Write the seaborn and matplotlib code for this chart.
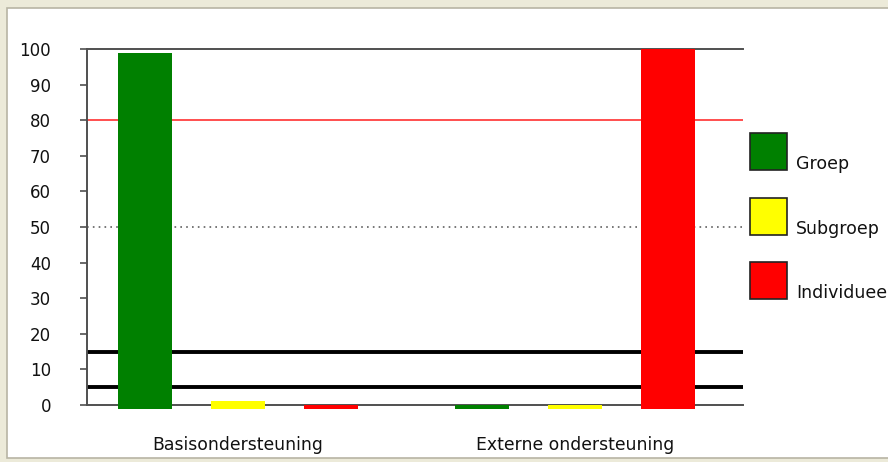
import numpy as np
import pandas as pd
import seaborn as sns
import matplotlib.pyplot as plt
from matplotlib.patches import Rectangle

# data
categories = ["Basisondersteuning", "Externe ondersteuning"]
series = ["Groep", "Subgroep", "Individueel"]
groep = [99, 0]
subgroep = [1, 0]
individueel = [0, 100]
colors = ["#008000", "#ffff00", "#ff0000"]

rows = []
for s, vals in zip(series, [groep, subgroep, individueel]):
    for c, v in zip(categories, vals):
        rows.append({"categorie": c, "niveau": s, "waarde": v})
df = pd.DataFrame(rows)

sns.set_style("white")
plt.rcParams['font.family'] = ['DejaVu Sans']

W, H = 888, 462
fig = plt.figure(figsize=(W / 100, H / 100), dpi=100, facecolor="#ecead9")

def px(x, y):
    return x / W, 1 - y / H

# white panel with thin frame, behind everything (open on the right like the original)
fig.patches.append(Rectangle(px(7, 458), (W + 20) / W, 450 / H, transform=fig.transFigure,
                             facecolor="white", edgecolor="#b8b4a4", linewidth=1.2, zorder=-10))

ax = fig.add_axes([87 / W, 1 - 405 / H, (743 - 87) / W, (405 - 49) / H])
ax.set_facecolor("none")

sns.barplot(data=df, x="categorie", y="waarde", hue="niveau", palette=colors,
            width=0.83, gap=0.42, order=categories, hue_order=series,
            legend=False, ax=ax, zorder=3, saturation=1)

# bars start a little below the axis like in the original
for p in ax.patches:
    p.set_y(-1.1)
    p.set_height(p.get_height() + 1.1)
    p.set_clip_on(False)
    p.set_linewidth(0)

ax.axhline(80, color="#ff4040", linewidth=1.3, zorder=1)
ax.axhline(50, color="#606060", linewidth=1.2, linestyle=(0, (1, 2.5)), zorder=1)
ax.axhline(15, color="black", linewidth=2.8, zorder=1)
ax.axhline(5, color="black", linewidth=2.8, zorder=1)

ax.set_ylim(0, 100)
ax.set_xlim(-0.448, 1.498)
ax.set_yticks(range(0, 101, 10))
ax.set_xlabel("")
ax.set_ylabel("")

for side in ["left", "top", "bottom"]:
    ax.spines[side].set_color("#505050")
    ax.spines[side].set_linewidth(1.4)
ax.spines["right"].set_visible(False)

ax.tick_params(axis="y", length=5, width=1.2, color="#505050", pad=21,
               labelsize=12, labelcolor="#111111", left=True)
ax.tick_params(axis="x", length=0, pad=22, labelsize=12.4, labelcolor="#111111")

# legend drawn as boxes with text next to the lower edge
for i, (s, col) in enumerate(zip(series, colors)):
    top = 133 + i * 64.5
    fig.patches.append(Rectangle(px(750, top + 37), 37 / W, 37 / H, transform=fig.transFigure,
                                 facecolor=col, edgecolor="#222222", linewidth=1.2))
    fig.text(*px(796, top + 31), s, fontsize=12.5, color="#111111", va="center", ha="left")

fig.savefig("out.png", dpi=100, facecolor=fig.get_facecolor())
